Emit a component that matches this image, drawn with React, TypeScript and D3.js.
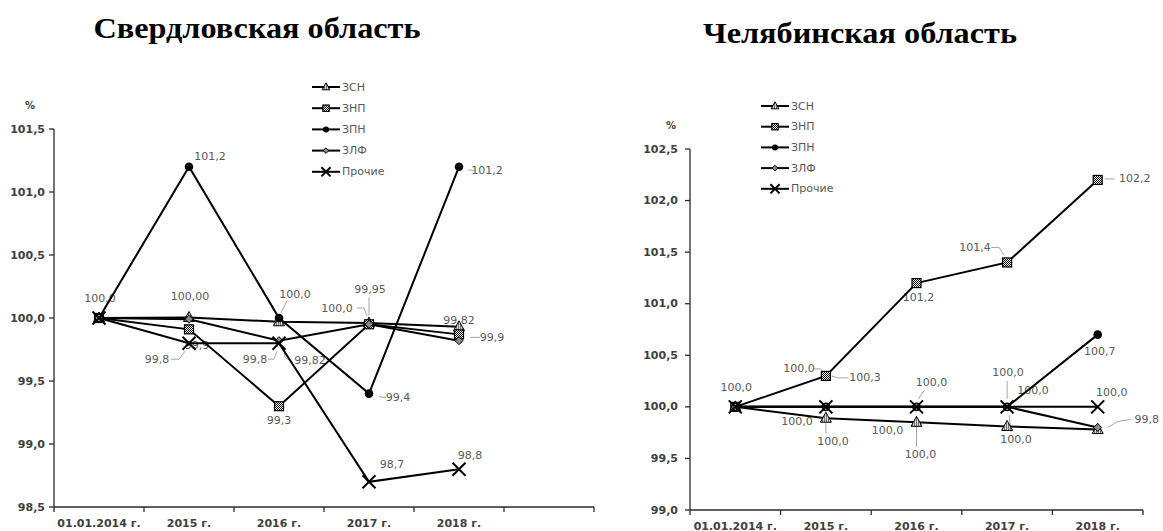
import React from "react";
import * as d3 from "d3";

// Series shared by both regions
const SERIES = ["ЗСН", "ЗНП", "ЗПН", "ЗЛФ", "Прочие"];

// Свердловская область
const sverdYears = ["01.01.2014 г.", "2015 г.", "2016 г.", "2017 г.", "2018 г.", ""];
const sverdTicks = [98.5, 99, 99.5, 100, 100.5, 101, 101.5];
const sverdZSN = [100.0, 100.004, 99.97, 99.96, 99.93];
const sverdZNP = [100.0, 99.91, 99.3, 99.95, 99.87];
const sverdZPN = [100.0, 101.2, 100.0, 99.4, 101.2];
const sverdZLF = [100.0, 99.99, 99.82, 99.95, 99.82];
const sverdOther = [100.0, 99.8, 99.8, 98.7, 98.8];

// Челябинская область
const chelYears = ["01.01.2014 г.", "2015 г.", "2016 г.", "2017 г.", "2018 г."];
const chelTicks = [99, 99.5, 100, 100.5, 101, 101.5, 102, 102.5];
const chelZSN = [100.0, 99.89, 99.85, 99.81, 99.78];
const chelZNP = [100.0, 100.3, 101.2, 101.4, 102.2];
const chelZPN = [100.0, 100.0, 100.0, 100.0, 100.7];
const chelZLF = [100.0, 100.0, 100.0, 100.0, 99.8];
const chelOther = [100.0, 100.0, 100.0, 100.0, 100.0];

// Data label placement: [series, point, decimals, dx, dy, leader offsets]
type LabelSpec = [number, number, number, number, number, number[][]?];

const sverdLabels: LabelSpec[] = [
  [0, 0, 1, 1, -20],
  [0, 1, 2, 1, -21],
  [2, 1, 1, 21, -10],
  [4, 1, 1, -32, 16, [[-18, 16], [-10, 16], [-4, 8]]],
  [1, 1, 1, 8, 16],
  [0, 2, 1, 16, -27, [[8, -21], [2, -9]]],
  [4, 2, 1, -24, 16, [[-11, 16], [-5, 16], [-2, 8]]],
  [1, 2, 1, 0, 14],
  [3, 2, 2, 31, 20, [[5, 6], [6, 17], [12, 20]]],
  [1, 3, 2, 1, -35, [[0, -27], [0, -9]]],
  [0, 3, 1, -32, -15, [[-12, -15], [-5, -15], [-2, -7]]],
  [2, 3, 1, 29, 4, [[10, 3], [17, 4]]],
  [4, 3, 1, 23, -17],
  [2, 4, 1, 28, 4, [[9, 3], [16, 4]]],
  [3, 4, 2, 0, -20],
  [1, 4, 1, 33, 3, [[11, 3], [21, 3]]],
  [4, 4, 1, 11, -14],
];

const chelLabels: LabelSpec[] = [
  [1, 0, 1, 1, -19],
  [1, 1, 1, 39, 2, [[6, 0], [12, 2], [22, 2]]],
  [2, 1, 1, -27, -38, [[-13, -38], [-5, -38], [-1, -32]]],
  [3, 1, 1, -29, 15],
  [4, 1, 1, 7, 35, [[0, 8], [0, 27]]],
  [1, 2, 1, 2, 14],
  [2, 2, 1, 15, -24, [[8, -17], [2, -8]]],
  [3, 2, 1, -29, 24],
  [4, 2, 1, 4, 48, [[0, 9], [0, 40]]],
  [1, 3, 1, -32, -15, [[-16, -15], [-8, -15], [-3, -7]]],
  [2, 3, 1, 1, -34, [[0, -26], [0, -8]]],
  [3, 3, 1, 26, -16],
  [4, 3, 1, 9, 33, [[2, 8], [4, 25]]],
  [1, 4, 1, 37, -1, [[7, -1], [17, -1]]],
  [2, 4, 1, 2, 17],
  [4, 4, 1, 14, -14],
  [3, 4, 1, 49, -8, [[10, 0], [20, -6], [33, -8]]],
];

const LABEL_FONT = "'DejaVu Sans', sans-serif";
const LABEL_COLOR = "#595959";
const AXIS_COLOR = "#2b2b2b";

const fmt = (v: number, d: number) => v.toFixed(d).replace(".", ",");

function Marker({ type, x, y, s = 1 }: { type: number; x: number; y: number; s?: number }) {
  if (type === 0) {
    return (
      <polygon
        points={`${x},${y - 6 * s} ${x - 5.5 * s},${y + 4 * s} ${x + 5.5 * s},${y + 4 * s}`}
        fill="url(#hatch)"
        stroke="#000"
        strokeWidth={1}
      />
    );
  }
  if (type === 1) {
    const h = 4.5 * s;
    return (
      <rect x={x - h} y={y - h} width={2 * h} height={2 * h} fill="url(#checker)" stroke="#000" strokeWidth={1.2} />
    );
  }
  if (type === 2) {
    return <circle cx={x} cy={y} r={4.3 * s} fill="#000" />;
  }
  if (type === 3) {
    const h = 4 * s;
    return (
      <polygon
        points={`${x},${y - h} ${x + h},${y} ${x},${y + h} ${x - h},${y}`}
        fill="#8c8c8c"
        stroke="#000"
        strokeWidth={1}
      />
    );
  }
  const h = 6.5 * s;
  return (
    <g stroke="#000" strokeWidth={2}>
      <line x1={x - h} y1={y - h} x2={x + h} y2={y + h} />
      <line x1={x - h} y1={y + h} x2={x + h} y2={y - h} />
    </g>
  );
}

type Layout = {
  title: string;
  titleX: number;
  titleY: number;
  titleLen: number;
  x0: number;
  x1: number;
  yTop: number;
  yBottom: number;
  pctX: number;
  pctY: number;
  tickGap: number;
  legendX: number;
  legendY: number;
  legendStep: number;
};

function Chart({
  layout,
  years,
  ticks,
  series,
  labels,
}: {
  layout: Layout;
  years: string[];
  ticks: number[];
  series: number[][];
  labels: LabelSpec[];
}) {
  const L = layout;
  const x = d3.scaleBand<string>().domain(years).range([L.x0, L.x1]).padding(0);
  const y = d3
    .scaleLinear()
    .domain([ticks[0], ticks[ticks.length - 1]])
    .range([L.yBottom, L.yTop]);
  const cx = (i: number) => (x(years[i]) as number) + x.bandwidth() / 2;
  const line = d3
    .line<number>()
    .x((_, i) => cx(i))
    .y((v) => y(v));
  const bounds = years.map((c) => x(c) as number).concat([L.x1]);

  return (
    <g>
      <text
        x={L.titleX}
        y={L.titleY}
        textAnchor="middle"
        fontFamily="'Liberation Serif', serif"
        fontWeight="bold"
        fontSize={30}
        textLength={L.titleLen}
        lengthAdjust="spacingAndGlyphs"
        fill="#000"
      >
        {L.title}
      </text>

      <text
        x={L.pctX}
        y={L.pctY}
        textAnchor="middle"
        dominantBaseline="central"
        fontFamily={LABEL_FONT}
        fontWeight="bold"
        fontSize={10}
        fill="#404040"
      >
        %
      </text>

      {/* y axis */}
      <line x1={L.x0} y1={L.yTop} x2={L.x0} y2={L.yBottom} stroke={AXIS_COLOR} strokeWidth={1.3} />
      {ticks.map((t) => (
        <g key={t}>
          <line x1={L.x0 - 5} y1={y(t)} x2={L.x0} y2={y(t)} stroke={AXIS_COLOR} strokeWidth={1.3} />
          <text
            x={L.x0 - L.tickGap}
            y={y(t)}
            textAnchor="end"
            dominantBaseline="central"
            fontFamily={LABEL_FONT}
            fontWeight="bold"
            fontSize={11}
            fill="#404040"
          >
            {fmt(t, 1)}
          </text>
        </g>
      ))}

      {/* x axis */}
      <line x1={L.x0} y1={L.yBottom} x2={L.x1} y2={L.yBottom} stroke={AXIS_COLOR} strokeWidth={1.3} />
      {bounds.map((b, i) => (
        <line key={i} x1={b} y1={L.yBottom} x2={b} y2={L.yBottom + 5} stroke={AXIS_COLOR} strokeWidth={1.3} />
      ))}
      {years.map((c, i) => (
        <text
          key={i}
          x={cx(i)}
          y={L.yBottom + 16}
          textAnchor="middle"
          dominantBaseline="central"
          fontFamily={LABEL_FONT}
          fontWeight="bold"
          fontSize={11}
          fill="#404040"
        >
          {c}
        </text>
      ))}

      {/* data labels with leader lines */}
      {labels.map(([si, pi, dec, dx, dy, leader], k) => {
        const px = cx(pi);
        const py = y(series[si][pi]);
        return (
          <g key={k}>
            {leader && (
              <polyline
                points={leader.map(([a, b]) => `${px + a},${py + b}`).join(" ")}
                fill="none"
                stroke="#a6a6a6"
                strokeWidth={1}
              />
            )}
            <text
              x={px + dx}
              y={py + dy}
              textAnchor="middle"
              dominantBaseline="central"
              fontFamily={LABEL_FONT}
              fontSize={11}
              fill={LABEL_COLOR}
            >
              {fmt(series[si][pi], dec)}
            </text>
          </g>
        );
      })}

      {/* series lines and markers */}
      {series.map((vals, si) => (
        <g key={si}>
          <path d={line(vals) || ""} fill="none" stroke="#000" strokeWidth={2} />
          {vals.map((v, i) => (
            <Marker key={i} type={si} x={cx(i)} y={y(v)} />
          ))}
        </g>
      ))}

      {/* legend */}
      {SERIES.map((name, si) => {
        const ly = L.legendY + si * L.legendStep;
        return (
          <g key={name}>
            <line x1={L.legendX} y1={ly} x2={L.legendX + 28} y2={ly} stroke="#000" strokeWidth={2} />
            <Marker type={si} x={L.legendX + 14} y={ly} s={0.7} />
            <text
              x={L.legendX + 30}
              y={ly}
              dominantBaseline="central"
              fontFamily={LABEL_FONT}
              fontSize={11}
              fill={LABEL_COLOR}
            >
              {name}
            </text>
          </g>
        );
      })}
    </g>
  );
}

export default function App() {
  const sverdSeries = [sverdZSN, sverdZNP, sverdZPN, sverdZLF, sverdOther];
  const chelSeries = [chelZSN, chelZNP, chelZPN, chelZLF, chelOther];
  return (
    <svg
      width={1163}
      height={531}
      style={{ position: "absolute", left: 0, top: 0, background: "#fff" }}
    >
      <defs>
        <pattern id="checker" width="2" height="2" patternUnits="userSpaceOnUse">
          <rect width="2" height="2" fill="#fff" />
          <rect width="1" height="1" fill="#000" />
          <rect x="1" y="1" width="1" height="1" fill="#000" />
        </pattern>
        <pattern id="hatch" width="2" height="2" patternUnits="userSpaceOnUse">
          <rect width="2" height="2" fill="#d9d9d9" />
          <rect width="1" height="2" fill="#6e6e6e" />
        </pattern>
      </defs>
      <rect width={1163} height={531} fill="#fff" />
      <Chart
        layout={{
          title: "Свердловская область",
          titleX: 257,
          titleY: 38,
          titleLen: 327,
          x0: 54,
          x1: 594,
          yTop: 129,
          yBottom: 507,
          pctX: 30,
          pctY: 105,
          tickGap: 9,
          legendX: 312,
          legendY: 87,
          legendStep: 21.2,
        }}
        years={sverdYears}
        ticks={sverdTicks}
        series={sverdSeries}
        labels={sverdLabels}
      />
      <Chart
        layout={{
          title: "Челябинская область",
          titleX: 860,
          titleY: 43,
          titleLen: 314,
          x0: 690,
          x1: 1143,
          yTop: 149,
          yBottom: 510,
          pctX: 671,
          pctY: 125,
          tickGap: 12,
          legendX: 761,
          legendY: 106,
          legendStep: 20.7,
        }}
        years={chelYears}
        ticks={chelTicks}
        series={chelSeries}
        labels={chelLabels}
      />
    </svg>
  );
}
